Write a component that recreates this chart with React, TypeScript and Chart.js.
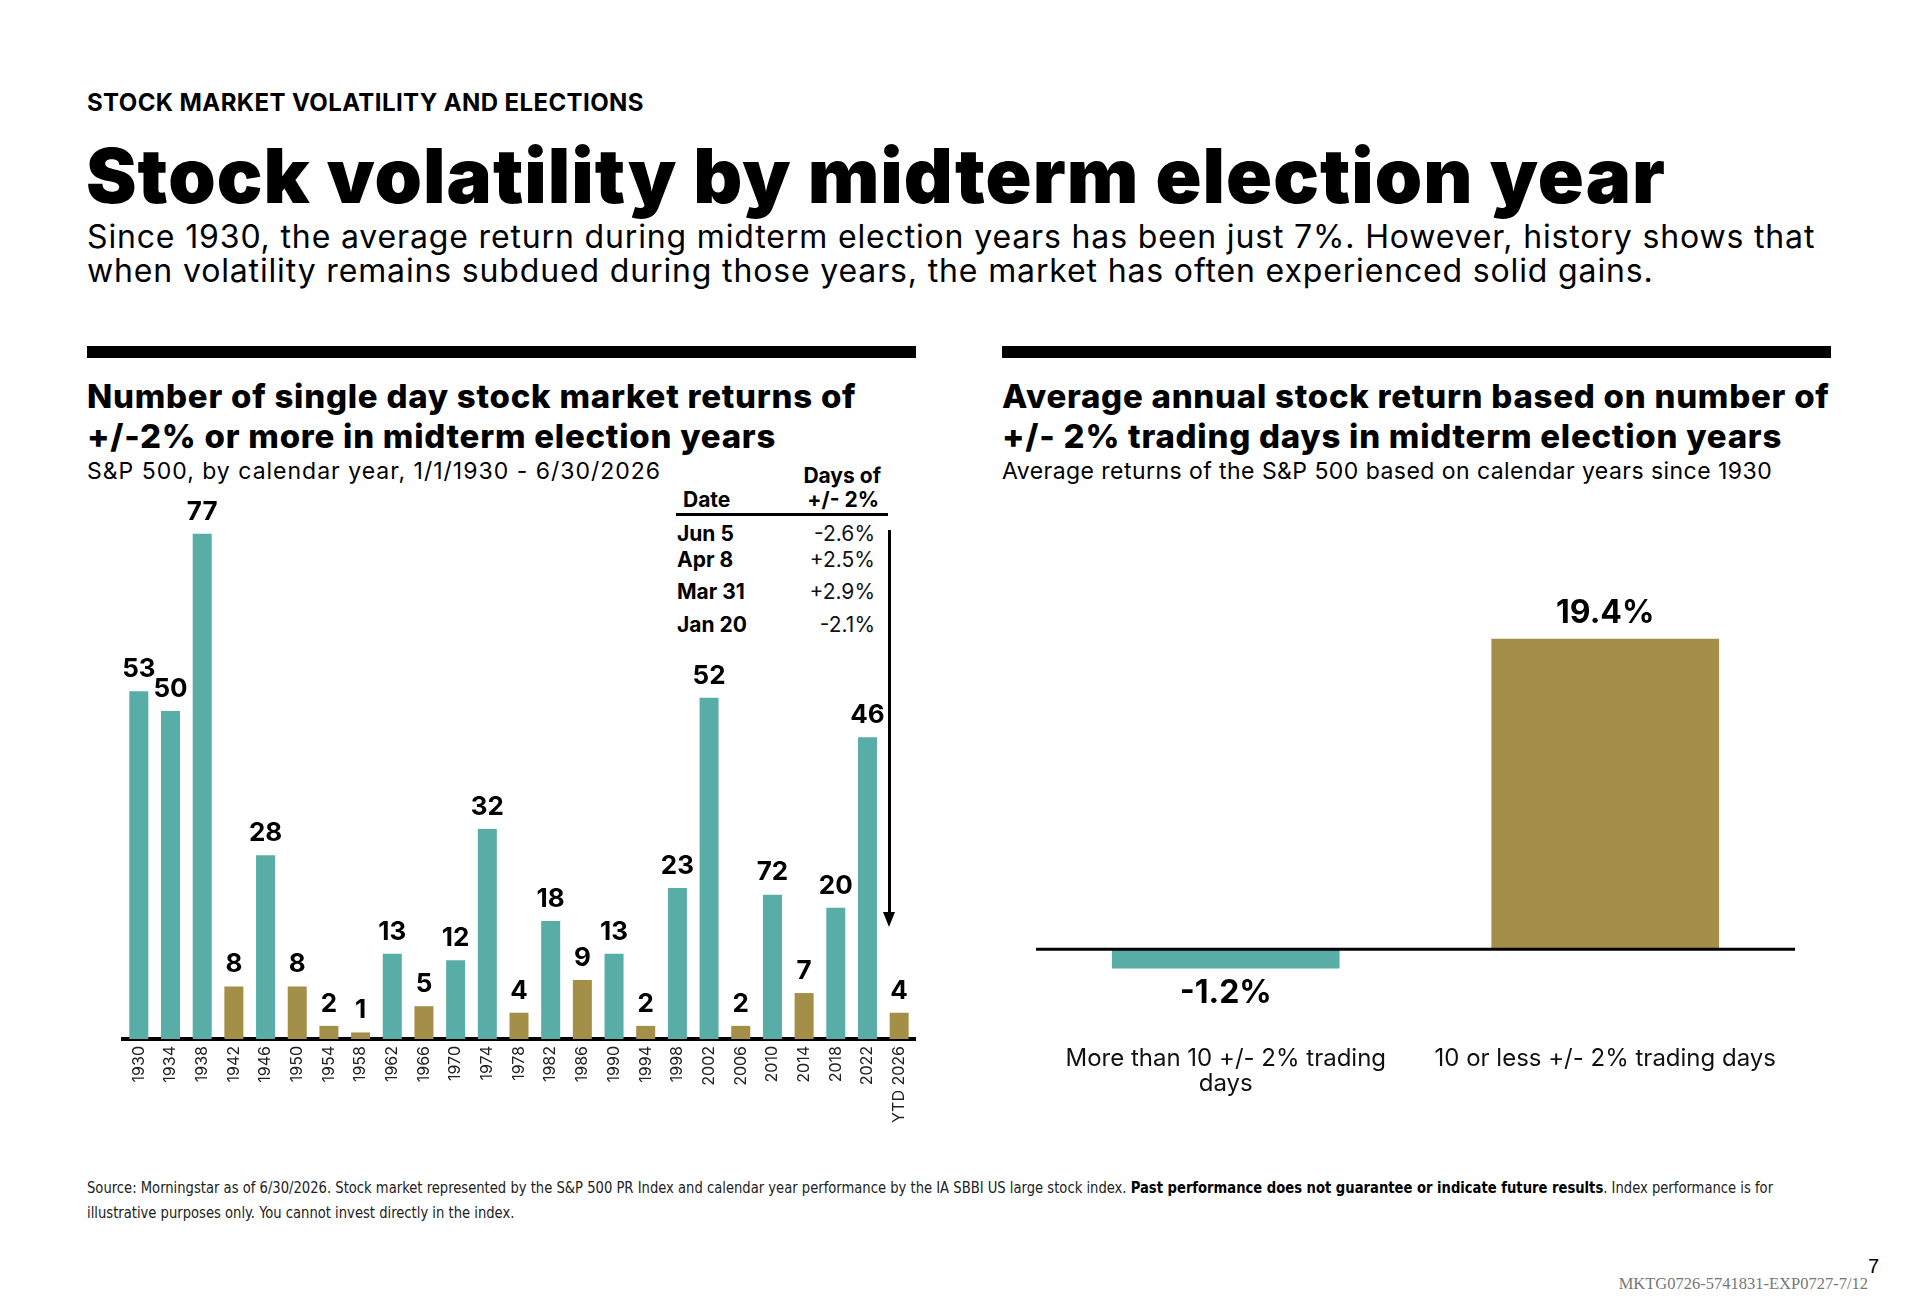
import React, { useEffect, useRef } from "react";
import { Chart, registerables } from "chart.js";

Chart.register(...registerables);

const TEAL = "#58ADA7";
const GOLD = "#A38F47";
const SANS = "Inter, 'Open Sans', sans-serif";

// left chart: count of +/-2% days per midterm year
const years = [
  "1930", "1934", "1938", "1942", "1946", "1950", "1954", "1958", "1962",
  "1966", "1970", "1974", "1978", "1982", "1986", "1990", "1994", "1998",
  "2002", "2006", "2010", "2014", "2018", "2022", "YTD 2026",
];
const volatileDays = [
  53, 50, 77, 8, 28, 8, 2, 1, 13, 5, 12, 32, 4, 18, 9, 13, 2, 23, 52, 2, 22, 7,
  20, 46, 4,
];
// labels as printed in the source (2010 is printed "72")
const dayLabels = [
  "53", "50", "77", "8", "28", "8", "2", "1", "13", "5", "12", "32", "4", "18",
  "9", "13", "2", "23", "52", "2", "72", "7", "20", "46", "4",
];
const calmThreshold = 10;

// 2026 YTD table
const ytdDates = ["Jun 5", "Apr 8", "Mar 31", "Jan 20"];
const ytdMoves = ["-2.6%", "+2.5%", "+2.9%", "-2.1%"];

// right chart
const groupLabels = [["More than 10 +/- 2% trading", "days"], "10 or less +/- 2% trading days"];
const avgReturns = [-1.2, 19.4];

const barValueLabels = {
  id: "barValueLabels",
  afterDatasetsDraw(chart: any, _args: any, opts: any) {
    const { ctx } = chart;
    const meta = chart.getDatasetMeta(0);
    const data = chart.data.datasets[0].data;
    ctx.save();
    ctx.font = opts.font;
    ctx.fillStyle = "#000";
    ctx.textAlign = "center";
    ctx.textBaseline = "middle";
    meta.data.forEach((bar: any, i: number) => {
      const dy = data[i] >= 0 ? -opts.offset : opts.offset;
      ctx.fillText(opts.texts[i], bar.x, bar.y + dy);
    });
    ctx.restore();
  },
};

const zeroLine = {
  id: "zeroLine",
  afterDatasetsDraw(chart: any) {
    const { ctx, chartArea } = chart;
    const y = chart.scales.y.getPixelForValue(0);
    ctx.save();
    ctx.strokeStyle = "#000";
    ctx.lineWidth = 3;
    ctx.beginPath();
    ctx.moveTo(chartArea.left, y);
    ctx.lineTo(chartArea.right, y);
    ctx.stroke();
    ctx.restore();
  },
};

function ChartCanvas({ config, left, top, width, height }: any) {
  const ref = useRef<HTMLCanvasElement>(null);
  useEffect(() => {
    if (!ref.current) return;
    const chart = new Chart(ref.current, config);
    return () => chart.destroy();
  }, []);
  return (
    <canvas
      ref={ref}
      width={width}
      height={height}
      style={{ position: "absolute", left, top, width, height }}
    />
  );
}

const leftConfig: any = {
  type: "bar",
  data: {
    labels: years,
    datasets: [
      {
        data: volatileDays,
        backgroundColor: volatileDays.map((v) => (v > calmThreshold ? TEAL : GOLD)),
        barPercentage: 0.6,
        categoryPercentage: 1,
      },
    ],
  },
  options: {
    animation: false,
    responsive: false,
    layout: { padding: { left: 36, right: 22, top: 34, bottom: 0 } },
    plugins: {
      legend: { display: false },
      tooltip: { enabled: false },
      barValueLabels: { texts: dayLabels, font: `bold 26px ${SANS}`, offset: 22 },
    },
    scales: {
      x: {
        grid: { display: false, drawTicks: false },
        border: { display: true, color: "#000", width: 4 },
        ticks: {
          autoSkip: false,
          minRotation: 90,
          maxRotation: 90,
          padding: 7,
          color: "#222",
          font: { family: SANS, size: 16 },
        },
        afterFit: (s: any) => {
          s.height = 101;
        },
      },
      y: { display: false, min: 0, max: 80 },
    },
  },
  plugins: [barValueLabels],
};

const rightConfig: any = {
  type: "bar",
  data: {
    labels: groupLabels,
    datasets: [
      {
        data: avgReturns,
        backgroundColor: [TEAL, GOLD],
        barPercentage: 0.6,
        categoryPercentage: 1,
      },
    ],
  },
  options: {
    animation: false,
    responsive: false,
    layout: { padding: { left: 34, right: 37, top: 37, bottom: 0 } },
    plugins: {
      legend: { display: false },
      tooltip: { enabled: false },
      barValueLabels: {
        texts: avgReturns.map((v) => v.toFixed(1) + "%"),
        font: `bold 32px ${SANS}`,
        offset: 25,
      },
    },
    scales: {
      x: {
        grid: { display: false, drawTicks: false },
        border: { display: false },
        ticks: {
          padding: 8,
          color: "#111",
          font: { family: SANS, size: 24, lineHeight: 1.02 },
        },
        afterFit: (s: any) => {
          s.height = 81;
        },
      },
      y: { display: false, min: -5.6, max: 22 },
    },
  },
  plugins: [barValueLabels, zeroLine],
};

const txt = (left: number, top: number, size: number, weight: number, extra: any = {}) => ({
  position: "absolute" as const,
  left,
  top,
  fontSize: size,
  fontWeight: weight,
  lineHeight: 1,
  fontFamily: SANS,
  whiteSpace: "nowrap" as const,
  color: "#000",
  ...extra,
});

const FOOT = "'DejaVu Sans Condensed', 'DejaVu Sans', sans-serif";
const rowTops = [523, 549, 581, 614];

export default function App() {
  return (
    <div
      style={{
        position: "absolute",
        left: 0,
        top: 0,
        width: 1920,
        height: 1309,
        background: "#fff",
        overflow: "hidden",
      }}
    >
      <div style={txt(87, 91, 24, 700, { letterSpacing: 0.4 })}>STOCK MARKET VOLATILITY AND ELECTIONS</div>
      <div style={txt(86, 137, 76, 900, { letterSpacing: 1 })}>
        Stock volatility by midterm election year
      </div>
      <div style={txt(87, 221, 32, 400, { letterSpacing: 0.85 })}>
        Since 1930, the average return during midterm election years has been just 7%. However, history shows that
      </div>
      <div style={txt(87, 255, 32, 400, { letterSpacing: 0.85 })}>
        when volatility remains subdued during those years, the market has often experienced solid gains.
      </div>

      <div style={{ position: "absolute", left: 87, top: 346, width: 829, height: 12, background: "#000" }} />
      <div style={{ position: "absolute", left: 1002, top: 346, width: 829, height: 12, background: "#000" }} />

      <div style={txt(87, 380, 33, 800, { letterSpacing: 0.75 })}>Number of single day stock market returns of</div>
      <div style={txt(87, 420, 33, 800, { letterSpacing: 0.75 })}>+/-2% or more in midterm election years</div>
      <div style={txt(87, 460, 23, 400, { letterSpacing: 1 })}>S&amp;P 500, by calendar year, 1/1/1930 - 6/30/2026</div>

      <div style={txt(1002, 380, 33, 800, { letterSpacing: 0.75 })}>Average annual stock return based on number of</div>
      <div style={txt(1002, 420, 33, 800, { letterSpacing: 0.75 })}>+/- 2% trading days in midterm election years</div>
      <div style={txt(1002, 460, 23, 400, { letterSpacing: 0.45 })}>
        Average returns of the S&amp;P 500 based on calendar years since 1930
      </div>

      {/* YTD table */}
      <div style={txt(683, 489, 21, 700)}>Date</div>
      <div style={txt(0, 465, 21, 700, { left: undefined, right: 1920 - 881 })}>Days of</div>
      <div style={txt(0, 489, 21, 700, { left: undefined, right: 1920 - 879 })}>+/- 2%</div>
      <div style={{ position: "absolute", left: 676, top: 513, width: 212, height: 2.5, background: "#000" }} />
      {ytdDates.map((d, i) => (
        <React.Fragment key={d}>
          <div style={txt(677, rowTops[i], 21, 700)}>{d}</div>
          <div style={txt(0, rowTops[i], 21, 400, { left: undefined, right: 1920 - 875, color: "#111" })}>
            {ytdMoves[i]}
          </div>
        </React.Fragment>
      ))}
      <div style={{ position: "absolute", left: 888, top: 530, width: 2.5, height: 384, background: "#000" }} />
      <div
        style={{
          position: "absolute",
          left: 883,
          top: 912,
          width: 0,
          height: 0,
          borderLeft: "6px solid transparent",
          borderRight: "6px solid transparent",
          borderTop: "15px solid #000",
        }}
      />

      <ChartCanvas config={leftConfig} left={87} top={480} width={850} height={660} />
      <ChartCanvas config={rightConfig} left={1002} top={560} width={830} height={560} />

      <div
        style={txt(87, 1181, 15.5, 400, {
          fontFamily: FOOT,
          color: "#222",
          transform: "scaleX(0.943)",
          transformOrigin: "0 0",
        })}
      >
        Source: Morningstar as of 6/30/2026. Stock market represented by the S&amp;P 500 PR Index and calendar year performance by the IA SBBI US large stock index.{" "}
        <b style={{ color: "#000" }}>Past performance does not guarantee or indicate future results</b>. Index performance is for
      </div>
      <div
        style={txt(87, 1206, 15.5, 400, {
          fontFamily: FOOT,
          color: "#222",
          transform: "scaleX(0.943)",
          transformOrigin: "0 0",
        })}
      >
        illustrative purposes only. You cannot invest directly in the index.
      </div>

      <div style={txt(1868, 1256, 20, 400, { fontFamily: "'Liberation Sans', sans-serif" })}>7</div>
      <div
        style={txt(0, 1276, 16.5, 400, {
          left: undefined,
          right: 52,
          fontFamily: "'Liberation Serif', serif",
          color: "#777",
        })}
      >
        MKTG0726-5741831-EXP0727-7/12
      </div>
    </div>
  );
}
